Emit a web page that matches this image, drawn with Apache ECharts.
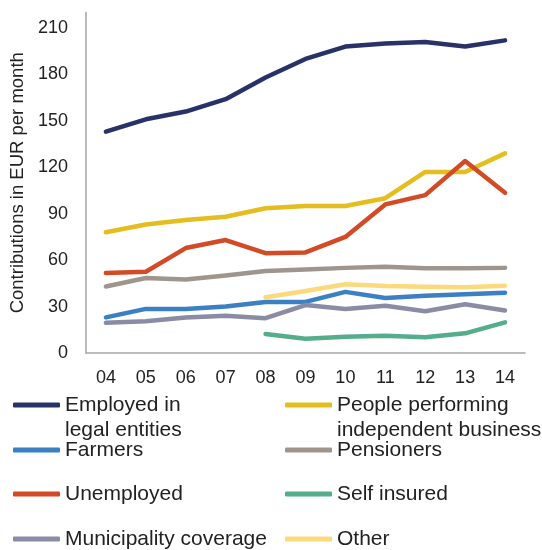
<!DOCTYPE html>
<html>
<head>
<meta charset="utf-8">
<script src="https://cdn.jsdelivr.net/npm/echarts@6/dist/echarts.min.js"></script>
<style>
  html, body { margin: 0; padding: 0; background: #fff; }
  #chart { width: 542px; height: 550px; }
</style>
</head>
<body>
<div id="chart"></div>
<script>
// Monthly health insurance contributions by insured category, 2004-2014
const years = ['04', '05', '06', '07', '08', '09', '10', '11', '12', '13', '14'];

const employedLegal = [143, 151, 156, 164, 178, 190, 198, 200, 201, 198, 202];
const independentBusiness = [78, 83, 86, 88, 93.5, 95, 95, 100, 117, 117, 129];
const farmers = [23, 28.5, 28.5, 30, 33, 33, 39.5, 35.5, 37, 38, 39];
const pensioners = [43, 48.5, 47.5, 50, 53, 54, 55, 55.8, 54.8, 54.8, 55];
const unemployed = [51.7, 52.5, 67.8, 73, 64.5, 65, 75, 96, 102, 124, 103.5];
const selfInsured = [null, null, null, null, 12.3, 9.2, 10.5, 11.2, 10.2, 12.7, 19.8];
const municipality = [19.5, 20.5, 23, 24, 22.5, 31, 28.5, 30.5, 27, 31.5, 27.5];
const other = [null, null, null, null, 36, 40, 44.4, 43.3, 42.8, 42.5, 43.5];

const yTicks = { min: 0, max: 220, interval: 30 };

const seriesDefs = [
  { name: 'Employed in legal entities', data: employedLegal, color: '#283269', label: 'Employed in\nlegal entities' },
  { name: 'People performing independent business', data: independentBusiness, color: '#e4bd1f', label: 'People performing\nindependent business' },
  { name: 'Farmers', data: farmers, color: '#3b7fc5' },
  { name: 'Pensioners', data: pensioners, color: '#a0958c' },
  { name: 'Unemployed', data: unemployed, color: '#d24a26' },
  { name: 'Self insured', data: selfInsured, color: '#55ae8b' },
  { name: 'Municipality coverage', data: municipality, color: '#8a8ba5' },
  { name: 'Other', data: other, color: '#fbd97c' }
];

// legend slots: [left, icon centre y]
const legendSlots = [
  [13, 405], [285, 405],
  [13, 450], [285, 450],
  [13, 494], [285, 494],
  [13, 539], [285, 539]
];

const FONT = 'Liberation Sans, Arial, sans-serif';
const LEGEND_LINE = 25;

const legends = seriesDefs.map((s, i) => {
  const twoLine = !!s.label;
  const [left, cy] = legendSlots[i];
  // two-line labels get an empty leading line so the icon sits beside the first line
  const boxH = twoLine ? LEGEND_LINE * 3 : LEGEND_LINE;
  return {
    data: [s.name],
    left: left,
    top: cy - boxH / 2,
    padding: 0,
    itemWidth: 47,
    itemHeight: 5,
    itemGap: 0,
    icon: 'roundRect',
    formatter: () => (twoLine ? '\n' + s.label : s.name),
    textStyle: {
      color: '#222',
      fontSize: 21,
      fontFamily: FONT,
      lineHeight: LEGEND_LINE
    }
  };
});

const chart = echarts.init(document.getElementById('chart'), null, { renderer: 'canvas' });

chart.setOption({
  animation: false,
  backgroundColor: '#fff',
  grid: { left: 83, right: 17, top: 12.5, bottom: 197, containLabel: false },
  legend: legends,
  xAxis: {
    type: 'category',
    data: years,
    boundaryGap: true,
    axisLine: { lineStyle: { color: '#a6a6a6', width: 1.5 } },
    axisTick: { show: false },
    axisLabel: { color: '#222', fontSize: 18, fontFamily: FONT, margin: 16 },
    splitLine: { show: false }
  },
  yAxis: {
    type: 'value',
    min: yTicks.min,
    max: yTicks.max,
    interval: yTicks.interval,
    name: 'Contributions in EUR per month',
    nameLocation: 'middle',
    nameGap: 54,
    nameTextStyle: { color: '#222', fontSize: 18.5, fontFamily: FONT },
    axisLine: { show: true, lineStyle: { color: '#a6a6a6', width: 1.5 } },
    axisTick: { show: false },
    axisLabel: { color: '#222', fontSize: 18, fontFamily: FONT, margin: 18, showMaxLabel: false },
    splitLine: { show: false }
  },
  series: seriesDefs.map(s => ({
    name: s.name,
    type: 'line',
    data: s.data,
    symbol: 'none',
    showSymbol: false,
    connectNulls: false,
    color: s.color,
    lineStyle: { color: s.color, width: 4.5, cap: 'round', join: 'round' },
    itemStyle: { color: s.color }
  }))
});
</script>
</body>
</html>
